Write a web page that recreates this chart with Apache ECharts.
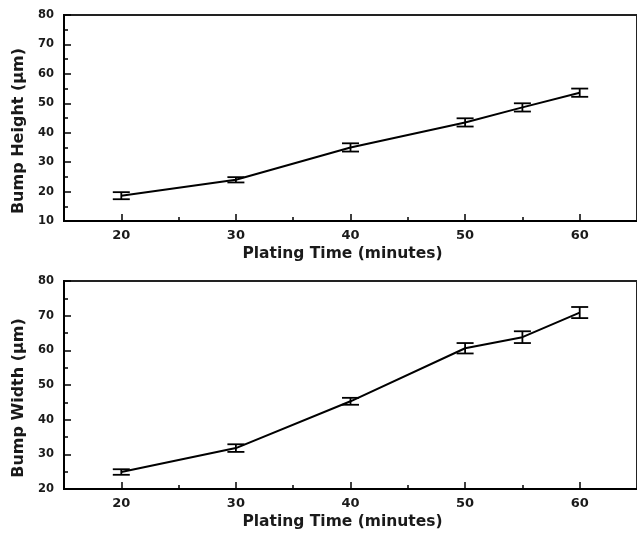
<!DOCTYPE html>
<html>
<head>
<meta charset="utf-8">
<script src="https://cdn.jsdelivr.net/npm/echarts@6/dist/echarts.min.js"></script>
<style>
  html, body { margin: 0; padding: 0; background: #fff; }
  #chart { width: 637px; height: 536px; }
</style>
</head>
<body>
<div id="chart"></div>
<script>
// plating time (minutes)
const time = [20, 30, 40, 50, 55, 60]
// bump height (um) and its error
const heightVals = [18.6, 24.0, 35.0, 43.5, 48.6, 53.6]
const heightErr = [1.2, 0.9, 1.4, 1.4, 1.4, 1.4]
// bump width (um) and its error
const widthVals = [24.9, 31.8, 45.3, 60.6, 63.8, 70.9]
const widthErr = [0.8, 1.1, 1.0, 1.5, 1.7, 1.6]
// x ticks
const majorX = [20, 30, 40, 50, 60]
const minorX = [25, 35, 45, 55]

const FONT = 'DejaVu Sans'
const INK = '#1a1a1a'

function errData(vals, errs) {
  return time.map((t, i) => [t, vals[i] - errs[i], vals[i] + errs[i]])
}

function renderErr(params, api) {
  const x = api.value(0)
  const lo = api.coord([x, api.value(1)])
  const hi = api.coord([x, api.value(2)])
  const hw = 8.5
  const style = { stroke: '#000', lineWidth: 1.8 }
  return {
    type: 'group',
    children: [
      { type: 'line', shape: { x1: lo[0], y1: lo[1], x2: hi[0], y2: hi[1] }, style },
      { type: 'line', shape: { x1: lo[0] - hw, y1: lo[1], x2: lo[0] + hw, y2: lo[1] }, style },
      { type: 'line', shape: { x1: hi[0] - hw, y1: hi[1], x2: hi[0] + hw, y2: hi[1] }, style }
    ]
  }
}

function mainX(grid) {
  return {
    gridIndex: grid,
    type: 'value',
    position: 'bottom',
    min: 15,
    max: 65,
    name: 'Plating Time (minutes)',
    nameLocation: 'middle',
    nameGap: 25,
    nameTextStyle: { fontFamily: FONT, fontWeight: 'bold', fontSize: 15.5, color: INK, padding: [0, 16, 0, 0] },
    axisLine: { lineStyle: { color: '#000', width: 2 } },
    axisTick: { inside: true, length: 7, lineStyle: { color: '#000', width: 1.5 }, customValues: majorX },
    axisLabel: { customValues: majorX, margin: 8, fontFamily: FONT, fontWeight: 'bold', fontSize: 13, color: INK },
    splitLine: { show: false }
  }
}

function minorXAxis(grid) {
  return {
    gridIndex: grid,
    type: 'value',
    position: 'bottom',
    min: 15,
    max: 65,
    axisLine: { show: false },
    axisTick: { inside: true, length: 4, lineStyle: { color: '#000', width: 1.5 }, customValues: minorX },
    axisLabel: { show: false },
    splitLine: { show: false }
  }
}

function yAxis(grid, name, min) {
  return {
    gridIndex: grid,
    type: 'value',
    min: min,
    max: 80,
    interval: 10,
    name: name,
    nameLocation: 'middle',
    nameGap: 34,
    nameTextStyle: { fontFamily: FONT, fontWeight: 'bold', fontSize: 16, color: INK, padding: [0, 26, 0, 0] },
    axisLine: { lineStyle: { color: '#000', width: 2 } },
    axisTick: { inside: true, length: 7, lineStyle: { color: '#000', width: 1.5 } },
    minorTick: { show: true, splitNumber: 2, length: 4, lineStyle: { color: '#000', width: 1.5 } },
    axisLabel: { margin: 10, fontFamily: FONT, fontWeight: 'bold', fontSize: 11.5, color: INK },
    splitLine: { show: false }
  }
}

const chart = echarts.init(document.getElementById('chart'))
chart.setOption({
  animation: false,
  backgroundColor: '#fff',
  grid: [
    { left: 64, top: 15, width: 574, height: 206, show: true, borderColor: '#222', borderWidth: 2 },
    { left: 64, top: 281, width: 574, height: 208, show: true, borderColor: '#222', borderWidth: 2 }
  ],
  xAxis: [mainX(0), minorXAxis(0), mainX(1), minorXAxis(1)],
  yAxis: [yAxis(0, 'Bump Height (μm)', 10), yAxis(1, 'Bump Width (μm)', 20)],
  series: [
    {
      type: 'line',
      xAxisIndex: 0,
      yAxisIndex: 0,
      data: time.map((t, i) => [t, heightVals[i]]),
      showSymbol: false,
      lineStyle: { color: '#000', width: 2 },
      z: 2
    },
    {
      type: 'custom',
      xAxisIndex: 0,
      yAxisIndex: 0,
      data: errData(heightVals, heightErr),
      renderItem: renderErr,
      z: 3
    },
    {
      type: 'line',
      xAxisIndex: 2,
      yAxisIndex: 1,
      data: time.map((t, i) => [t, widthVals[i]]),
      showSymbol: false,
      lineStyle: { color: '#000', width: 2 },
      z: 2
    },
    {
      type: 'custom',
      xAxisIndex: 2,
      yAxisIndex: 1,
      data: errData(widthVals, widthErr),
      renderItem: renderErr,
      z: 3
    }
  ]
})
</script>
</body>
</html>
